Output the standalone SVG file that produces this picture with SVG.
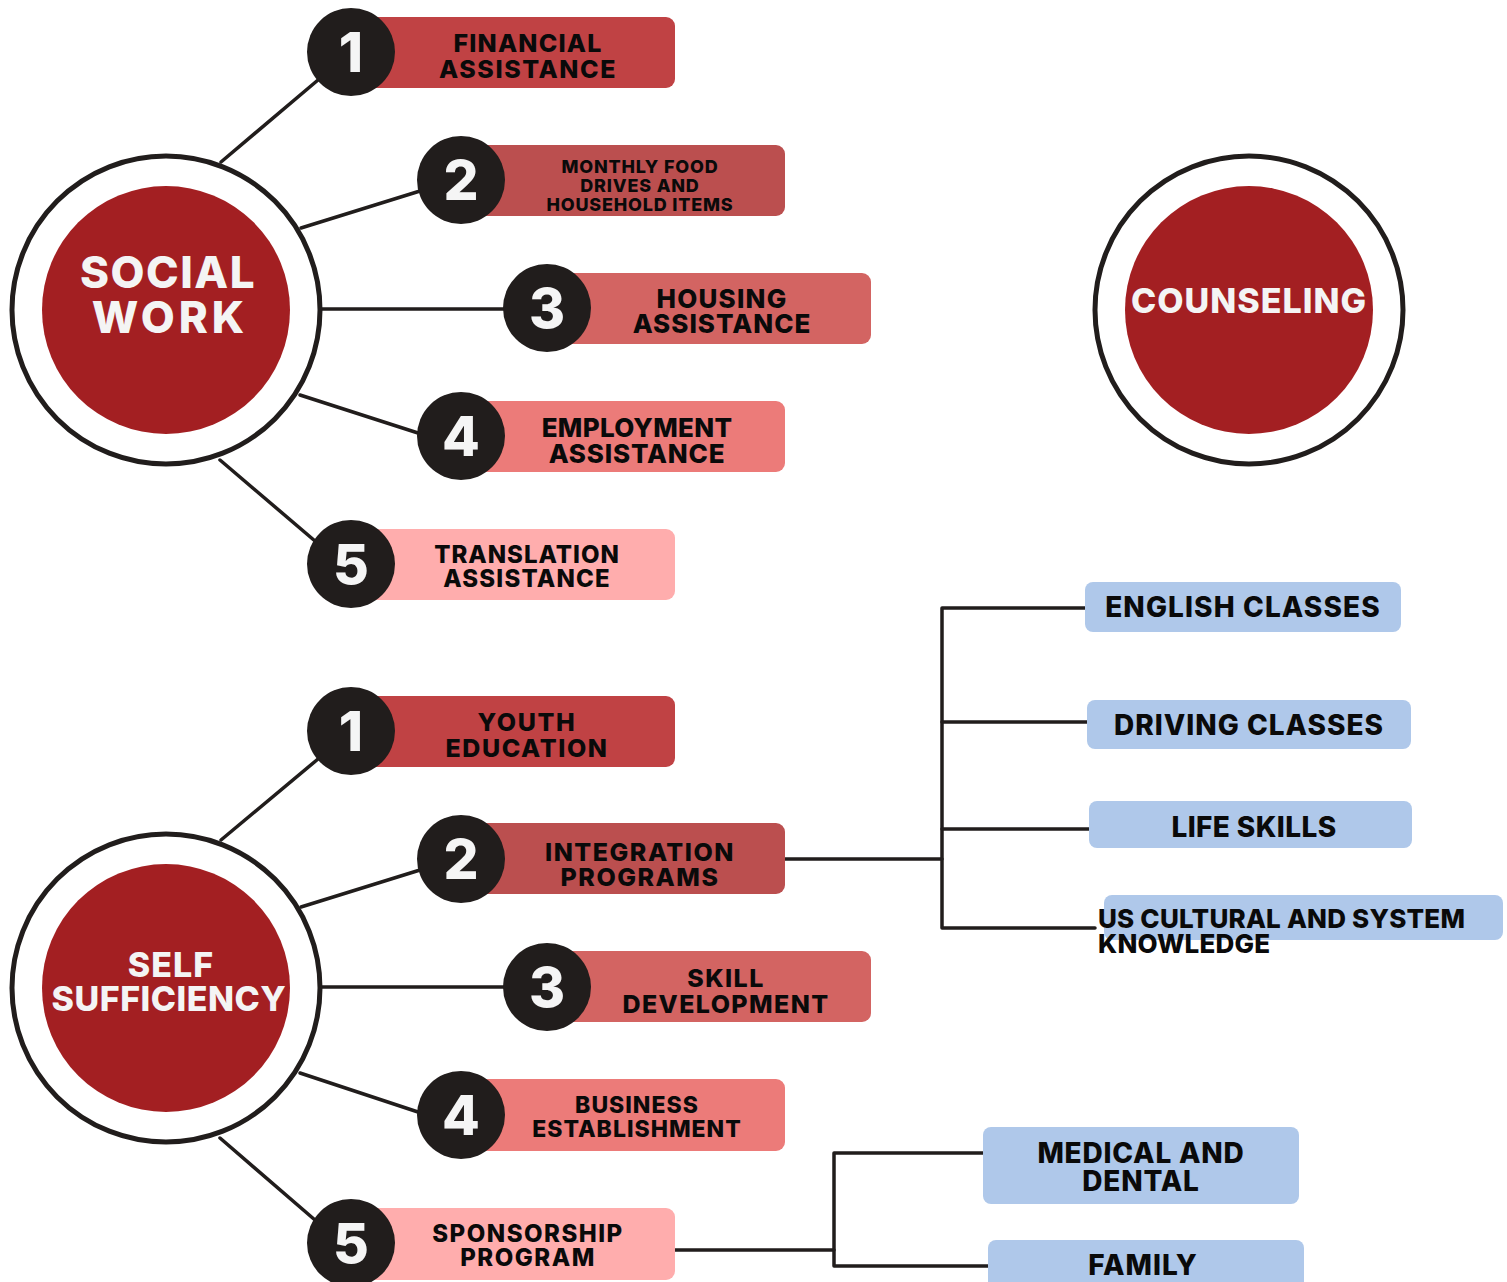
<svg xmlns="http://www.w3.org/2000/svg" width="1507" height="1282" viewBox="0 0 1507 1282">
<style>
.ring{fill:#ffffff;stroke:#211d1c;stroke-width:5}
.core{fill:#a31f22}
.ctext{font-family:"Inter","Noto Sans",sans-serif;font-weight:800;fill:#f4f4f4;text-anchor:middle}
.num{fill:#211d1c}
.digit{font-family:"Inter","Noto Sans",sans-serif;font-weight:800;font-size:55px;fill:#f5f5f5;text-anchor:middle}
.lbl{font-family:"Inter","Noto Sans",sans-serif;font-weight:800;fill:#0a0a0a;text-anchor:middle;letter-spacing:1.2px}
.c1{fill:#c04244}.c2{fill:#bb4f4f}.c3{fill:#d36462}.c4{fill:#ec7b79}.c5{fill:#ffadad}
.blue{fill:#afc8ea}
.ln{stroke:#211d1c;stroke-width:3.5;fill:none;stroke-linecap:round;stroke-linejoin:round}
</style>
<rect width="1507" height="1282" fill="#ffffff"/>
<g id="connectors">
<line class="ln" x1="221" y1="162" x2="318" y2="80"/>
<line class="ln" x1="301" y1="228" x2="420" y2="191"/>
<line class="ln" x1="322" y1="309" x2="505" y2="309"/>
<line class="ln" x1="300" y1="395" x2="418" y2="433"/>
<line class="ln" x1="220" y1="460" x2="315" y2="541"/>
<line class="ln" x1="221" y1="840" x2="318" y2="759"/>
<line class="ln" x1="301" y1="907" x2="420" y2="870"/>
<line class="ln" x1="322" y1="987" x2="505" y2="987"/>
<line class="ln" x1="300" y1="1073" x2="418" y2="1112"/>
<line class="ln" x1="220" y1="1138" x2="315" y2="1220"/>
<path class="ln" d="M785 859 H942"/>
<path class="ln" d="M1085 608 H942 V928 H1095"/>
<path class="ln" d="M942 722 H1087"/>
<path class="ln" d="M942 829 H1089"/>
<path class="ln" d="M675 1250 H834"/>
<path class="ln" d="M983 1153 H834 V1266 H988"/>
</g>
<g id="social-work">
<circle class="ring" cx="166" cy="310" r="154"/>
<circle class="core" cx="166" cy="310" r="124"/>
<text class="ctext" font-size="44" x="168" y="288" style="letter-spacing:1.5px">SOCIAL</text>
<text class="ctext" font-size="44" x="170" y="333" style="letter-spacing:4px">WORK</text>
</g>
<g id="counseling">
<circle class="ring" cx="1249" cy="310" r="154"/>
<circle class="core" cx="1249" cy="310" r="124"/>
<text class="ctext" font-size="34" x="1249" y="313" style="letter-spacing:1px">COUNSELING</text>
</g>
<g id="self-sufficiency">
<circle class="ring" cx="166" cy="988" r="154"/>
<circle class="core" cx="166" cy="988" r="124"/>
<text class="ctext" font-size="34" x="171" y="977" style="letter-spacing:1px">SELF</text>
<text class="ctext" font-size="34" x="169" y="1011" style="letter-spacing:0.5px">SUFFICIENCY</text>
</g>
<g id="sw-1">
<rect class="c1" x="360" y="17" width="315" height="71" rx="9"/>
<circle class="num" cx="351" cy="52" r="44"/>
<text class="digit" x="351" y="72">1</text>
<text class="lbl" font-size="25" x="528" y="52">FINANCIAL</text>
<text class="lbl" font-size="25" x="528" y="78" style="letter-spacing:1.6px">ASSISTANCE</text>
</g>
<g id="sw-2">
<rect class="c2" x="470" y="145" width="315" height="71" rx="9"/>
<circle class="num" cx="461" cy="180" r="44"/>
<text class="digit" x="461" y="200">2</text>
<text class="lbl" font-size="18" x="640" y="173" style="letter-spacing:0.8px">MONTHLY FOOD</text>
<text class="lbl" font-size="18" x="640" y="192" style="letter-spacing:0.8px">DRIVES AND</text>
<text class="lbl" font-size="18" x="640" y="211" style="letter-spacing:0.8px">HOUSEHOLD ITEMS</text>
</g>
<g id="sw-3">
<rect class="c3" x="556" y="273" width="315" height="71" rx="9"/>
<circle class="num" cx="547" cy="308" r="44"/>
<text class="digit" x="547" y="328">3</text>
<text class="lbl" font-size="26" x="722" y="308">HOUSING</text>
<text class="lbl" font-size="26" x="722" y="333" style="letter-spacing:1px">ASSISTANCE</text>
</g>
<g id="sw-4">
<rect class="c4" x="470" y="401" width="315" height="71" rx="9"/>
<circle class="num" cx="461" cy="436" r="44"/>
<text class="digit" x="461" y="456">4</text>
<text class="lbl" font-size="26" x="637" y="437" style="letter-spacing:0.3px">EMPLOYMENT</text>
<text class="lbl" font-size="26" x="637" y="463" style="letter-spacing:0.8px">ASSISTANCE</text>
</g>
<g id="sw-5">
<rect class="c5" x="360" y="529" width="315" height="71" rx="9"/>
<circle class="num" cx="351" cy="564" r="44"/>
<text class="digit" x="351" y="584">5</text>
<text class="lbl" font-size="24" x="527" y="563" style="letter-spacing:1px">TRANSLATION</text>
<text class="lbl" font-size="24" x="527" y="587" style="letter-spacing:1.2px">ASSISTANCE</text>
</g>
<g id="ss-1">
<rect class="c1" x="360" y="696" width="315" height="71" rx="9"/>
<circle class="num" cx="351" cy="731" r="44"/>
<text class="digit" x="351" y="751">1</text>
<text class="lbl" font-size="25" x="527" y="731" style="letter-spacing:1.6px">YOUTH</text>
<text class="lbl" font-size="25" x="527" y="757" style="letter-spacing:1.6px">EDUCATION</text>
</g>
<g id="ss-2">
<rect class="c2" x="470" y="823" width="315" height="71" rx="9"/>
<circle class="num" cx="461" cy="859" r="44"/>
<text class="digit" x="461" y="879">2</text>
<text class="lbl" font-size="25" x="640" y="861" style="letter-spacing:1.5px">INTEGRATION</text>
<text class="lbl" font-size="25" x="640" y="886" style="letter-spacing:1.5px">PROGRAMS</text>
</g>
<g id="ss-3">
<rect class="c3" x="556" y="951" width="315" height="71" rx="9"/>
<circle class="num" cx="547" cy="987" r="44"/>
<text class="digit" x="547" y="1007">3</text>
<text class="lbl" font-size="25" x="726" y="987" style="letter-spacing:1.4px">SKILL</text>
<text class="lbl" font-size="25" x="726" y="1013" style="letter-spacing:1.4px">DEVELOPMENT</text>
</g>
<g id="ss-4">
<rect class="c4" x="470" y="1079" width="315" height="72" rx="9"/>
<circle class="num" cx="461" cy="1115" r="44"/>
<text class="digit" x="461" y="1135">4</text>
<text class="lbl" font-size="23" x="637" y="1113" style="letter-spacing:1px">BUSINESS</text>
<text class="lbl" font-size="23" x="637" y="1137" style="letter-spacing:1px">ESTABLISHMENT</text>
</g>
<g id="ss-5">
<rect class="c5" x="360" y="1208" width="315" height="72" rx="9"/>
<circle class="num" cx="351" cy="1243" r="44"/>
<text class="digit" x="351" y="1263">5</text>
<text class="lbl" font-size="24" x="528" y="1242" style="letter-spacing:1.5px">SPONSORSHIP</text>
<text class="lbl" font-size="24" x="528" y="1266" style="letter-spacing:1.5px">PROGRAM</text>
</g>
<g id="english-classes">
<rect class="blue" x="1085" y="582" width="316" height="50" rx="8"/>
<text class="lbl" font-size="28" x="1243" y="617" style="letter-spacing:1.1px">ENGLISH CLASSES</text>
</g>
<g id="driving-classes">
<rect class="blue" x="1087" y="700" width="324" height="49" rx="8"/>
<text class="lbl" font-size="28" x="1249" y="735" style="letter-spacing:1px">DRIVING CLASSES</text>
</g>
<g id="life-skills">
<rect class="blue" x="1089" y="801" width="323" height="47" rx="8"/>
<text class="lbl" font-size="28" x="1254" y="837" style="letter-spacing:0.4px">LIFE SKILLS</text>
</g>
<g id="us-cultural">
<rect class="blue" x="1104" y="895" width="399" height="45" rx="8"/>
<text class="lbl" font-size="26" x="1098" y="928" style="text-anchor:start;letter-spacing:0.2px">US CULTURAL AND SYSTEM</text>
<text class="lbl" font-size="26" x="1098" y="953" style="text-anchor:start;letter-spacing:0.2px">KNOWLEDGE</text>
</g>
<g id="medical-dental">
<rect class="blue" x="983" y="1127" width="316" height="77" rx="8"/>
<text class="lbl" font-size="28" x="1141" y="1163" style="letter-spacing:0.8px">MEDICAL AND</text>
<text class="lbl" font-size="28" x="1141" y="1191" style="letter-spacing:0.8px">DENTAL</text>
</g>
<g id="family">
<rect class="blue" x="988" y="1240" width="316" height="60" rx="8"/>
<text class="lbl" font-size="28" x="1143" y="1275" style="letter-spacing:1px">FAMILY</text>
</g>
</svg>
